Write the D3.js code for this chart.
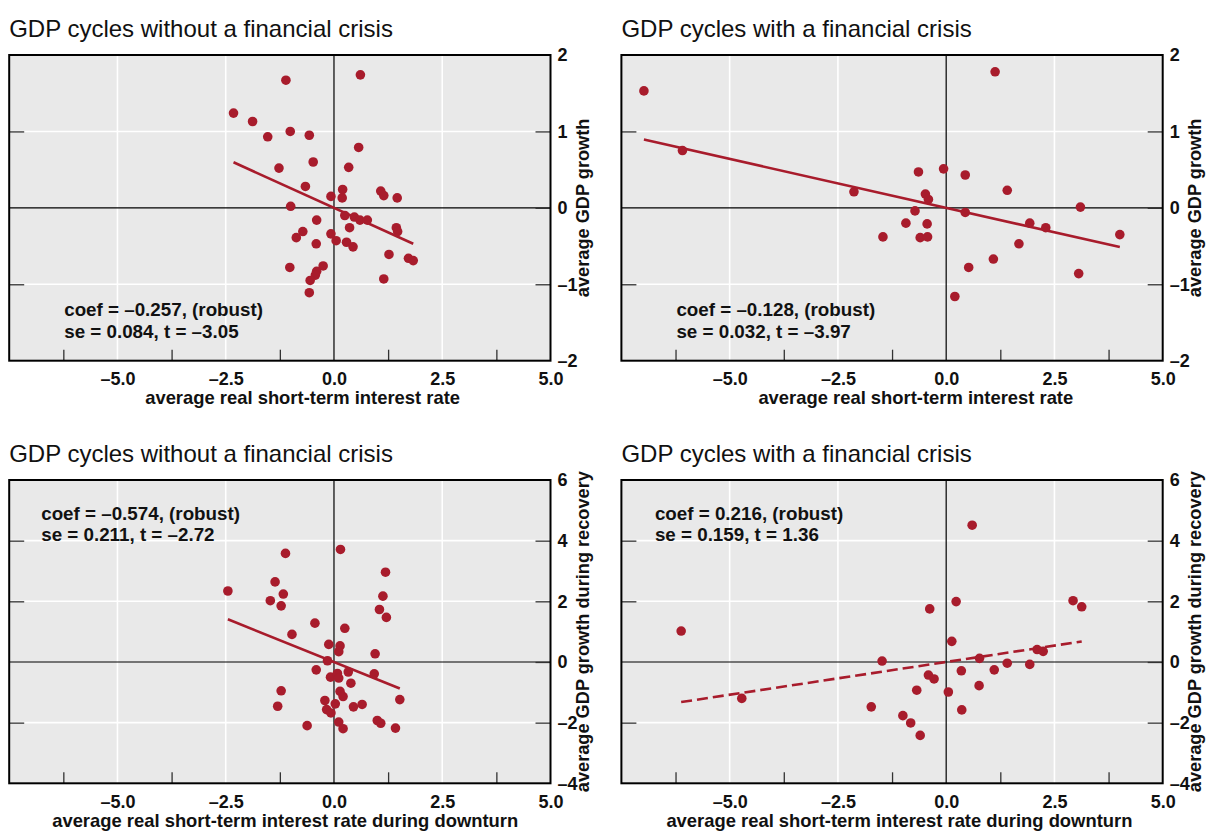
<!DOCTYPE html>
<html>
<head>
<meta charset="utf-8">
<script src="https://cdn.jsdelivr.net/npm/d3@7"></script>
<style>
  body { margin: 0; background: #fff; }
  text { font-family: "Liberation Sans", Arial, sans-serif; }
</style>
</head>
<body>
<svg id="chart" width="1211" height="831"></svg>
<script>
// --- data ---
const noCrisisRate = [-1.11, 0.61, -2.32, -1.88, -1.53, -1.01, -0.57, 0.57, -1.27, -0.48, 0.34, -0.66, 0.20, -0.07, 0.19, 1.08, 1.15, 1.46, -1.00, 0.25, 0.47, 0.60, 0.77, -0.40, 0.36, 1.44, 1.47, -0.72, -0.07, -0.87, 0.05, 0.29, -0.41, 0.44, 1.27, 1.72, 1.83, -1.02, -0.25, -0.40, -0.43, -0.55, 1.15, -0.57]
const noCrisisGrowth = [1.67, 1.74, 1.24, 1.13, 0.93, 1.00, 0.95, 0.79, 0.52, 0.60, 0.53, 0.28, 0.24, 0.15, 0.13, 0.22, 0.16, 0.13, 0.02, -0.10, -0.12, -0.16, -0.16, -0.16, -0.26, -0.26, -0.31, -0.31, -0.34, -0.39, -0.43, -0.45, -0.47, -0.51, -0.61, -0.66, -0.69, -0.78, -0.76, -0.83, -0.88, -0.95, -0.93, -1.11]

const crisisRate = [-6.98, 1.13, -6.09, -0.06, -0.64, 0.44, -2.13, 1.41, -0.48, -0.41, 3.10, -0.72, 0.44, -0.93, -0.44, 1.93, 2.30, -1.46, -0.60, -0.43, 4.01, 1.68, 1.09, 0.52, 3.06, 0.20]
const crisisGrowth = [1.53, 1.78, 0.75, 0.51, 0.47, 0.43, 0.21, 0.23, 0.18, 0.11, 0.01, -0.04, -0.06, -0.20, -0.21, -0.20, -0.26, -0.38, -0.39, -0.38, -0.35, -0.47, -0.67, -0.78, -0.86, -1.16]

const noCrisisDownRate = [0.15, -1.12, 1.19, -1.36, -2.45, -1.17, 1.13, -1.47, -1.22, 1.05, 1.21, -0.44, 0.25, -0.97, -0.12, 0.14, 0.11, 0.95, -0.15, -0.41, 0.33, 0.93, -0.08, 0.08, 0.11, 0.39, -1.22, 0.14, 0.21, 1.52, -0.21, -1.30, 0.03, 0.45, 0.65, -0.17, -0.07, 0.11, 1.00, 1.08, -0.62, 0.21, 1.42]
const noCrisisRecovery = [3.71, 3.58, 2.96, 2.64, 2.34, 2.24, 2.17, 2.02, 1.85, 1.73, 1.47, 1.28, 1.11, 0.91, 0.58, 0.53, 0.34, 0.27, 0.04, -0.26, -0.33, -0.39, -0.50, -0.38, -0.53, -0.70, -0.95, -0.97, -1.14, -1.24, -1.27, -1.46, -1.38, -1.48, -1.40, -1.57, -1.68, -1.98, -1.93, -2.02, -2.10, -2.20, -2.18]

const crisisDownRate = [0.60, 0.23, 2.93, 3.13, -0.38, -6.12, 0.13, 2.10, 2.24, 0.77, -1.48, 1.41, 1.93, 0.35, 1.11, -0.41, -0.28, 0.76, -0.68, 0.05, -4.72, -1.73, 0.36, -1.00, -0.82, -0.60]
const crisisRecovery = [4.51, 1.99, 2.02, 1.82, 1.75, 1.02, 0.68, 0.41, 0.35, 0.12, 0.03, -0.04, -0.08, -0.29, -0.26, -0.43, -0.56, -0.78, -0.93, -0.99, -1.20, -1.48, -1.58, -1.77, -2.01, -2.42]

// regression results printed on each panel
const fitCoef = [-0.257, -0.128, -0.574, 0.216]
const fitSe = [0.084, 0.032, 0.211, 0.159]
const fitT = [-3.05, -3.97, -2.72, 1.36]

const xTicks = [-5, -2.5, 0, 2.5, 5]
const xMinorTicks = [-6.25, -3.75, -1.25, 1.25, 3.75]
const growthTicks = [-2, -1, 0, 1, 2]
const recoveryTicks = [-4, -2, 0, 2, 4, 6]

const titles = ['GDP cycles without a financial crisis', 'GDP cycles with a financial crisis']
// --- end data ---

const red = '#a81c2c'
const dash = v => (v < 0 ? '\u2013' : '') + Math.abs(v)
const fmt1 = v => (v < 0 ? '\u2013' : '') + Math.abs(v).toFixed(1)
const fmt3 = v => (v < 0 ? '\u2013' : '') + Math.abs(v).toFixed(3)
const fmt2 = v => (v < 0 ? '\u2013' : '') + Math.abs(v).toFixed(2)

const panels = [
  { xs: noCrisisRate, ys: noCrisisGrowth, ticks: growthTicks, title: titles[0], left: 9.2, top: 55, h: 305.7,
    xTitle: 'average real short-term interest rate', xTitleDx: 136, yTitle: 'average GDP growth', statDx: 55, statDy: 261, dashed: false },
  { xs: crisisRate, ys: crisisGrowth, ticks: growthTicks, title: titles[1], left: 621.4, top: 55, h: 305.7,
    xTitle: 'average real short-term interest rate', xTitleDx: 137, yTitle: 'average GDP growth', statDx: 55, statDy: 261, dashed: false },
  { xs: noCrisisDownRate, ys: noCrisisRecovery, ticks: recoveryTicks, title: titles[0], left: 9.2, top: 480, h: 303.3,
    xTitle: 'average real short-term interest rate during downturn', xTitleDx: 43, yTitle: 'average GDP growth during recovery', statDx: 32, statDy: 39.5, dashed: false },
  { xs: crisisDownRate, ys: crisisRecovery, ticks: recoveryTicks, title: titles[1], left: 621.4, top: 480, h: 303.3,
    xTitle: 'average real short-term interest rate during downturn', xTitleDx: 45, yTitle: 'average GDP growth during recovery', statDx: 33.5, statDy: 39.5, dashed: true }
]
const W = 541.3

const svg = d3.select('#chart')

panels.forEach(function (p, i) {
  const x = d3.scaleLinear().domain([-7.5, 5]).range([p.left, p.left + W])
  const y = d3.scaleLinear().domain(d3.extent(p.ticks)).range([p.top + p.h, p.top])
  const g = svg.append('g')
  const bottom = p.top + p.h, right = p.left + W

  g.append('text').attr('x', p.left).attr('y', p.top - 18.5)
    .attr('font-size', 24).attr('fill', '#111').text(p.title)

  g.append('rect').attr('x', p.left).attr('y', p.top).attr('width', W).attr('height', p.h).attr('fill', '#e9e9e9')

  // white grid
  g.selectAll('.vg').data(xTicks.filter(d => d !== 0 && d !== 5)).enter().append('line')
    .attr('x1', d => x(d)).attr('x2', d => x(d)).attr('y1', p.top).attr('y2', bottom)
    .attr('stroke', '#fff').attr('stroke-width', 1.6)
  const inner = p.ticks.filter(d => d !== 0 && d !== p.ticks[0] && d !== p.ticks[p.ticks.length - 1])
  g.selectAll('.hg').data(inner).enter().append('line')
    .attr('x1', p.left).attr('x2', right).attr('y1', d => y(d)).attr('y2', d => y(d))
    .attr('stroke', '#fff').attr('stroke-width', 1.6)

  // zero lines
  g.append('line').attr('x1', x(0)).attr('x2', x(0)).attr('y1', p.top).attr('y2', bottom).attr('stroke', '#000').attr('stroke-width', 1.2)
  g.append('line').attr('x1', p.left).attr('x2', right).attr('y1', y(0)).attr('y2', y(0)).attr('stroke', '#000').attr('stroke-width', 1.2)

  // tick marks
  const minor = g.append('g').attr('transform', `translate(0,${bottom})`)
    .call(d3.axisBottom(x).tickValues(xMinorTicks).tickSize(-11).tickFormat(''))
  const rightTicks = g.append('g').attr('transform', `translate(${right},0)`)
    .call(d3.axisRight(y).tickValues(inner.concat([0])).tickSize(-15).tickFormat(''))
  const leftTicks = g.append('g').attr('transform', `translate(${p.left},0)`)
    .call(d3.axisLeft(y).tickValues(inner).tickSize(-15).tickFormat(''))
  ;[minor, rightTicks, leftTicks].forEach(a => {
    a.select('.domain').remove()
    a.selectAll('line').attr('stroke', '#333').attr('stroke-width', 1.3)
  })

  // fit line
  const ext = d3.extent(p.xs)
  g.append('line')
    .attr('x1', x(ext[0])).attr('y1', y(fitCoef[i] * ext[0]))
    .attr('x2', x(ext[1])).attr('y2', y(fitCoef[i] * ext[1]))
    .attr('stroke', red).attr('stroke-width', 2.6)
    .attr('stroke-dasharray', p.dashed ? '11,5' : null)

  // points
  g.selectAll('circle').data(p.xs.map((v, k) => [v, p.ys[k]])).enter().append('circle')
    .attr('cx', d => x(d[0])).attr('cy', d => y(d[1])).attr('r', 4.8).attr('fill', red)

  // border
  g.append('rect').attr('x', p.left).attr('y', p.top).attr('width', W).attr('height', p.h)
    .attr('fill', 'none').attr('stroke', '#000').attr('stroke-width', 2)

  // axis labels
  const xa = g.append('g').attr('transform', `translate(0,${bottom})`)
    .call(d3.axisBottom(x).tickValues(xTicks).tickSize(0).tickPadding(11.5).tickFormat(fmt1))
  const ya = g.append('g').attr('transform', `translate(${right},0)`)
    .call(d3.axisRight(y).tickValues(p.ticks).tickSize(0).tickPadding(7).tickFormat(dash))
  ;[xa, ya].forEach(a => {
    a.select('.domain').remove()
    a.selectAll('text').attr('font-family', '"Liberation Sans", Arial, sans-serif')
      .attr('font-size', 18).attr('font-weight', 'bold').attr('fill', '#111')
  })

  g.append('text').attr('x', p.left + p.xTitleDx).attr('y', bottom + 43.5)
    .attr('font-size', 18.4).attr('font-weight', 'bold').attr('fill', '#111')
    .text(p.xTitle)
  g.append('text').attr('transform', `translate(${right + 38.5},${p.top + p.h / 2}) rotate(-90)`)
    .attr('text-anchor', 'middle').attr('font-size', 18.2).attr('font-weight', 'bold').attr('fill', '#111')
    .text(p.yTitle)

  // regression stats
  const st = g.append('text').attr('font-size', 18.8).attr('font-weight', 'bold').attr('fill', '#111')
  st.append('tspan').attr('x', p.left + p.statDx).attr('y', p.top + p.statDy)
    .text('coef = ' + fmt3(fitCoef[i]) + ', (robust)')
  st.append('tspan').attr('x', p.left + p.statDx).attr('y', p.top + p.statDy + 21.5)
    .text('se = ' + fmt3(fitSe[i]) + ', t = ' + fmt2(fitT[i]))
})
</script>
</body>
</html>
